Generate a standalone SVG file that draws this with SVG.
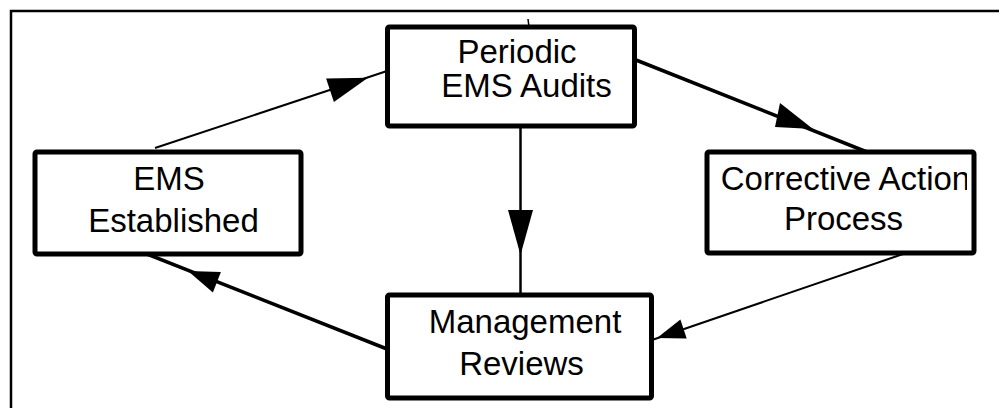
<svg xmlns="http://www.w3.org/2000/svg" width="999" height="408" viewBox="0 0 999 408">
<style>
.box{fill:#fff;stroke:#000;stroke-width:5;stroke-linejoin:round}
.lbl{font-family:"Liberation Sans",Arial,sans-serif;font-size:33px;fill:#000;text-anchor:middle}
.ln{stroke:#000;fill:none;stroke-linecap:butt}
.head{fill:#000;stroke:none}
.frame{stroke:#000;stroke-width:2.5;fill:none}
</style>
<defs>
<clipPath id="clipCA"><rect x="709.5" y="154.5" width="257.5" height="96"/></clipPath>
</defs>
<rect width="999" height="408" fill="#fff"/>
<polyline class="frame" points="11,408 11,11 999,11"/>
<g id="connectors">
<line class="ln" x1="528" y1="19" x2="529" y2="27" stroke-width="1.5"/>
<line class="ln" x1="155" y1="148" x2="387" y2="71" stroke-width="2"/>
<polygon class="head" points="368,77.7 333.9,102.1 326.1,78.4"/>
<line class="ln" x1="636" y1="60" x2="867" y2="152" stroke-width="3.5"/>
<polygon class="head" points="813,129 775,127 780,103"/>
<line class="ln" x1="520.5" y1="128" x2="520.5" y2="295" stroke-width="2.5"/>
<polygon class="head" points="508,210 533,210 520.5,255"/>
<line class="ln" x1="903" y1="254" x2="652" y2="340" stroke-width="2"/>
<polygon class="head" points="657,338 686.7,338.6 680.4,319.6"/>
<line class="ln" x1="387" y1="349" x2="147" y2="254" stroke-width="3.5"/>
<polygon class="head" points="188,271 220.9,272.1 212.9,292.5"/>
</g>
<g id="periodic">
<rect class="box" x="387.5" y="27" width="247" height="99" rx="2"/>
<text class="lbl" x="517" y="63">Periodic</text>
<text class="lbl" x="526.5" y="97">EMS Audits</text>
</g>
<g id="corrective">
<rect class="box" x="707" y="152" width="267" height="101" rx="2"/>
<g clip-path="url(#clipCA)">
<text class="lbl" x="845.5" y="190">Corrective Action</text>
</g>
<text class="lbl" x="843.5" y="230">Process</text>
</g>
<g id="management">
<rect class="box" x="387.5" y="295" width="264" height="103" rx="2"/>
<text class="lbl" x="525" y="333">Management</text>
<text class="lbl" x="521.5" y="375">Reviews</text>
</g>
<g id="established">
<rect class="box" x="35" y="152" width="266" height="102" rx="2"/>
<text class="lbl" x="169" y="190">EMS</text>
<text class="lbl" x="173.5" y="232">Established</text>
</g>
</svg>
